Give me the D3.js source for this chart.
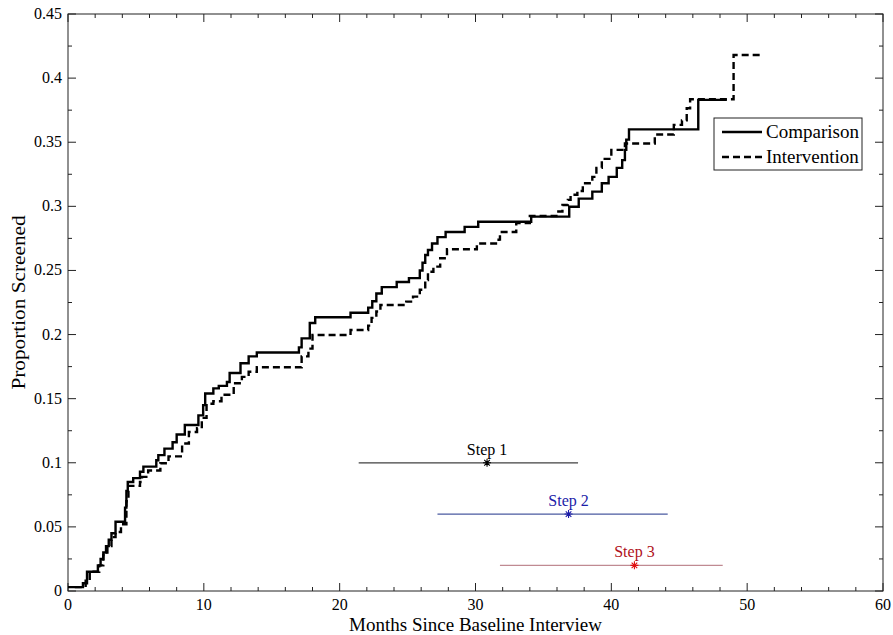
<!DOCTYPE html>
<html>
<head>
<meta charset="utf-8">
<script src="https://cdn.jsdelivr.net/npm/d3@7"></script>
<style>
  body { margin: 0; background: #fff; }
  svg text { font-family: "Liberation Serif", "Times New Roman", serif; }
</style>
</head>
<body>
<div id="chart"></div>
<script>
// step points [month, proportion screened]
var comparison = [
  [0.3,0.003],[1.1,0.006],[1.4,0.015],[2.2,0.02],[2.4,0.025],[2.6,0.03],[2.8,0.035],[3.0,0.04],
  [3.2,0.045],[3.5,0.054],[4.2,0.065],[4.3,0.078],[4.4,0.085],[4.8,0.088],[5.3,0.093],[5.55,0.097],
  [6.5,0.102],[6.65,0.106],[7.1,0.111],[7.7,0.116],[8.0,0.122],[8.6,0.1295],[9.6,0.137],[9.95,0.145],
  [10.1,0.154],[10.7,0.158],[11.1,0.16],[11.7,0.163],[11.9,0.17],[12.7,0.1776],[13.3,0.183],[13.9,0.186],
  [17.0,0.19],[17.2,0.197],[17.8,0.209],[18.2,0.2135],[20.8,0.217],[22.1,0.221],[22.4,0.226],[22.7,0.232],
  [23.1,0.237],[24.2,0.241],[25.1,0.244],[25.9,0.25],[26.1,0.256],[26.3,0.262],[26.5,0.266],[26.8,0.271],
  [27.2,0.276],[27.8,0.28],[29.2,0.284],[30.2,0.288],[34.1,0.292],[36.9,0.2997],[37.6,0.306],[38.6,0.3115],
  [39.3,0.318],[39.8,0.323],[40.4,0.33],[40.8,0.336],[41.0,0.344],[41.1,0.352],[41.3,0.36],[46.4,0.383],
  [48.5,0.383]
];
var intervention = [
  [0.5,0.003],[1.3,0.008],[1.6,0.015],[2.3,0.02],[2.6,0.028],[2.9,0.035],[3.2,0.042],[3.5,0.046],
  [3.9,0.052],[4.3,0.07],[4.45,0.082],[5.3,0.085],[5.45,0.089],[5.9,0.094],[6.8,0.0996],[7.4,0.105],
  [8.4,0.115],[8.9,0.124],[9.5,0.127],[9.85,0.135],[10.2,0.146],[10.7,0.148],[11.3,0.153],[12.2,0.162],
  [12.8,0.167],[13.3,0.171],[13.9,0.1745],[17.2,0.183],[17.7,0.189],[18.0,0.1997],[20.8,0.2036],[22.1,0.207],
  [22.35,0.213],[22.7,0.218],[23.0,0.223],[24.9,0.2257],[25.4,0.2296],[25.9,0.235],[26.3,0.2426],[26.5,0.249],
  [26.9,0.253],[27.4,0.2595],[27.9,0.2665],[30.1,0.271],[31.7,0.274],[31.8,0.28],[33.0,0.287],[34.0,0.2925],
  [36.1,0.296],[36.4,0.301],[36.8,0.305],[37.0,0.309],[37.5,0.312],[37.9,0.318],[38.6,0.323],[38.9,0.33],
  [39.3,0.337],[40.0,0.344],[41.0,0.349],[43.2,0.356],[44.6,0.3635],[45.2,0.367],[45.55,0.3765],[45.8,0.3835],
  [49.0,0.418],[51.1,0.418]
];

// step intervals: start, mean, end, y level
var stepNames = ["Step 1", "Step 2", "Step 3"];
var stepStart = [21.4, 27.2, 31.8];
var stepMean  = [30.85, 36.85, 41.7];
var stepEnd   = [37.55, 44.15, 48.2];
var stepLevel = [0.1, 0.06, 0.02];
var stepLineColor  = ["#404040", "#4a5aa0", "#c08a92"];
var stepLabelColor = ["#000000", "#1c1ca8", "#b01020"];
var stepStarColor  = ["#000000", "#1c1ca8", "#e01010"];

var xTicks = [0, 10, 20, 30, 40, 50, 60];
var yTicks = [0, 0.05, 0.1, 0.15, 0.2, 0.25, 0.3, 0.35, 0.4, 0.45];

var width = 893, height = 635;
var margin = {left: 68, right: 10, top: 14, bottom: 44};
var x1 = width - margin.right, y1 = height - margin.bottom;

var svg = d3.select("#chart").append("svg")
    .attr("width", width)
    .attr("height", height);

var x = d3.scaleLinear().domain([0, 60]).range([margin.left, x1]);
var y = d3.scaleLinear().domain([0, 0.45]).range([y1, margin.top]);

// frame
svg.append("rect")
    .attr("x", margin.left).attr("y", margin.top)
    .attr("width", x1 - margin.left).attr("height", y1 - margin.top)
    .attr("fill", "none").attr("stroke", "#222").attr("stroke-width", 1);

// inward ticks on all sides
var xMinor = d3.range(0, 61, 2), yMinor = d3.range(0, 0.4501, 0.025);
var tk = svg.append("g").attr("stroke", "#222").attr("stroke-width", 1);
xMinor.forEach(function(v) {
  var len = (v % 10 === 0) ? 8 : 4;
  tk.append("line").attr("x1", x(v)).attr("x2", x(v)).attr("y1", y1).attr("y2", y1 - len);
  tk.append("line").attr("x1", x(v)).attr("x2", x(v)).attr("y1", margin.top).attr("y2", margin.top + len);
});
yMinor.forEach(function(v, i) {
  var len = (i % 2 === 0) ? 8 : 4;
  tk.append("line").attr("y1", y(v)).attr("y2", y(v)).attr("x1", margin.left).attr("x2", margin.left + len);
  tk.append("line").attr("y1", y(v)).attr("y2", y(v)).attr("x1", x1).attr("x2", x1 - len);
});

svg.selectAll(".xt").data(xTicks).enter().append("text")
    .attr("x", function(d) { return x(d); })
    .attr("y", y1 + 19)
    .attr("text-anchor", "middle")
    .attr("font-size", 16)
    .text(function(d) { return d; });

svg.selectAll(".yt").data(yTicks).enter().append("text")
    .attr("x", margin.left - 6)
    .attr("y", function(d) { return y(d) + 5; })
    .attr("text-anchor", "end")
    .attr("font-size", 16)
    .text(function(d) { return d; });

svg.append("text")
    .attr("x", x(30)).attr("y", 631)
    .attr("text-anchor", "middle")
    .attr("font-size", 19)
    .text("Months Since Baseline Interview");

svg.append("text")
    .attr("transform", "translate(25," + ((margin.top + y1) / 2) + ") rotate(-90) scale(1.12,1)")
    .attr("text-anchor", "middle")
    .attr("font-size", 19)
    .text("Proportion Screened");

// curves
var line = d3.line()
    .x(function(d) { return x(d[0]); })
    .y(function(d) { return y(d[1]); })
    .curve(d3.curveStepAfter);

svg.append("path")
    .attr("d", line([[0, 0.003]].concat(comparison)))
    .attr("fill", "none").attr("stroke", "#000").attr("stroke-width", 2.4);

svg.append("path")
    .attr("d", line(intervention))
    .attr("fill", "none").attr("stroke", "#000").attr("stroke-width", 2.4)
    .attr("stroke-dasharray", "7,4");

// step intervals
stepNames.forEach(function(name, i) {
  var cy = y(stepLevel[i]), cx = x(stepMean[i]);
  svg.append("line")
      .attr("x1", x(stepStart[i])).attr("x2", x(stepEnd[i]))
      .attr("y1", cy).attr("y2", cy)
      .attr("stroke", stepLineColor[i]).attr("stroke-width", 1.2);
  var r = 4, s = 2.8;
  svg.append("path")
      .attr("d", "M" + (cx - r) + "," + cy + "H" + (cx + r) +
                 "M" + cx + "," + (cy - r) + "V" + (cy + r) +
                 "M" + (cx - s) + "," + (cy - s) + "L" + (cx + s) + "," + (cy + s) +
                 "M" + (cx - s) + "," + (cy + s) + "L" + (cx + s) + "," + (cy - s))
      .attr("stroke", stepStarColor[i]).attr("stroke-width", 1.1);
  svg.append("text")
      .attr("x", cx).attr("y", cy - 8)
      .attr("text-anchor", "middle")
      .attr("font-size", 16)
      .attr("fill", stepLabelColor[i])
      .text(name);
});

// legend
var lg = svg.append("g").attr("transform", "translate(714,118)");
lg.append("rect").attr("width", 148).attr("height", 52)
    .attr("fill", "#fff").attr("stroke", "#222").attr("stroke-width", 1);
[["Comparison", null], ["Intervention", "7,4"]].forEach(function(d, i) {
  var ly = 14 + i * 25;
  lg.append("line").attr("x1", 8).attr("x2", 48).attr("y1", ly).attr("y2", ly)
      .attr("stroke", "#000").attr("stroke-width", 2.4)
      .attr("stroke-dasharray", d[1]);
  lg.append("text").attr("x", 52).attr("y", ly + 6)
      .attr("font-size", 19).text(d[0]);
});
</script>
</body>
</html>
